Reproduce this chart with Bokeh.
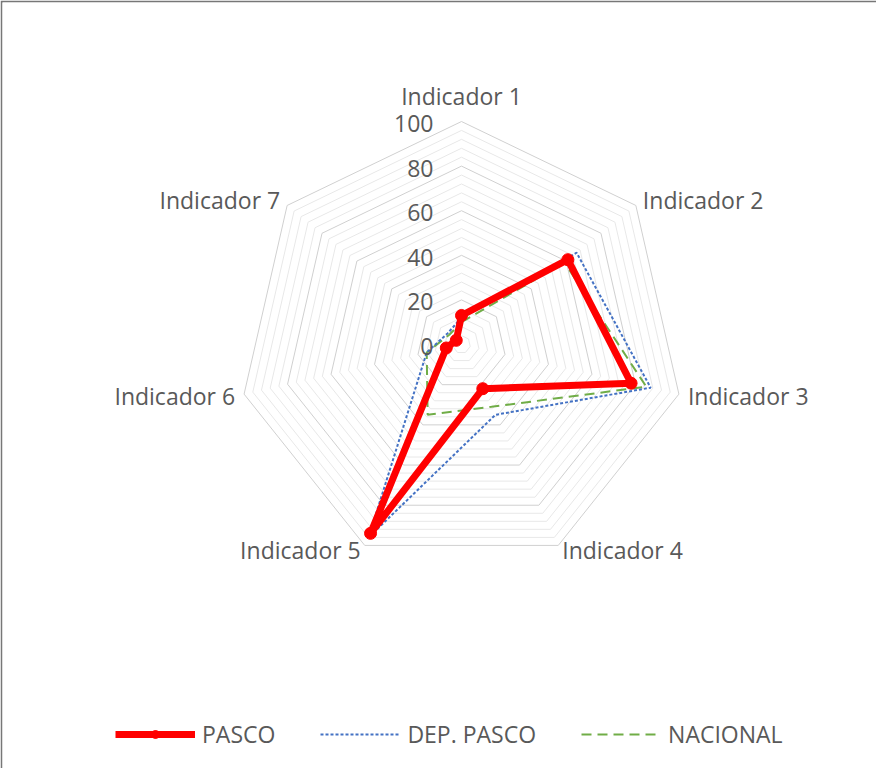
import numpy as np
from bokeh.plotting import figure
from bokeh.models import ColumnDataSource, Legend, LegendItem
from bokeh.core.properties import value
from bokeh.embed import file_html
from bokeh.resources import INLINE

# ---- data ----
categories = ["Indicador 1", "Indicador 2", "Indicador 3", "Indicador 4",
              "Indicador 5", "Indicador 6", "Indicador 7"]
pasco = [13, 61, 78, 22, 94, 7, 3]
dep_pasco = [12, 66, 87, 35, 96, 16, 8]
nacional = [10, 59, 85, 31, 35, 16, 7]
tick_values = [0, 20, 40, 60, 80, 100]
tick_labels = ["0", "20", "40", "60", "80", "100"]
minor_step = 4
r_max = 100

# ---- layout / style ----
FONT = "Open Sans"
FS = "23px"
TXT = "#595959"
W, H = 876, 768
BL, BT = 2, 2
scale = 2.23                       # px per unit
cx_f, cy_f = 459, 342              # centre position in frame px
fw, fh = W - BL, H - BT

p = figure(width=W, height=H, output_backend="svg", toolbar_location=None,
           x_axis_location=None, y_axis_location=None,
           x_range=(-cx_f / scale, (fw - cx_f) / scale),
           y_range=(-(fh - cy_f) / scale, cy_f / scale),
           min_border_left=BL, min_border_top=BT, min_border_right=0, min_border_bottom=0)
p.xgrid.visible = False
p.ygrid.visible = False
p.outline_line_color = None
p.border_fill_color = "#777777"
p.background_fill_color = "white"

n = len(categories)
theta = np.arange(n) * 2 * np.pi / n


def to_xy(vals):
    v = np.asarray(vals, dtype=float)
    x = v * np.sin(theta)
    y = v * np.cos(theta)
    return np.append(x, x[0]), np.append(y, y[0])


# grid rings
minor_levels = [lv for lv in range(minor_step, r_max + 1, minor_step) if lv % 20 != 0]
for lv in minor_levels:
    gx, gy = to_xy([lv] * n)
    p.line(gx, gy, line_color="#e8e8e8", line_width=1)
for lv in tick_values[1:]:
    gx, gy = to_xy([lv] * n)
    p.line(gx, gy, line_color="#d0d0d0", line_width=1)

# series
gx, gy = to_xy(nacional)
r_nac = p.line(gx, gy, line_color="#70ad47", line_width=2, line_dash="10 6")
gx, gy = to_xy(dep_pasco)
r_dep = p.line(gx, gy, line_color="#4472c4", line_width=2, line_dash="3 2")
gx, gy = to_xy(pasco)
r_pas = p.line(gx, gy, line_color="#ff0000", line_width=7, line_join="round")
r_pas_m = p.scatter(gx[:-1], gy[:-1], size=12, marker="circle",
                    fill_color="#ff0000", line_color="#ff0000")

# tick labels on the vertical axis
p.text(x=[0] * len(tick_values), y=tick_values, text=tick_labels,
       text_font=value(FONT), text_font_size=FS, text_color=TXT,
       text_align="right", text_baseline="middle", x_offset=-28, y_offset=2)

# category labels
cat_x = r_max * np.sin(theta)
cat_y = r_max * np.cos(theta)
x_offs = [0, 7, 9, 4, -4, -9, -7]
y_offs = [-26, -5, 2, 5, 5, 2, -5]
aligns = ["center", "left", "left", "left", "right", "right", "right"]
src = ColumnDataSource(dict(x=cat_x, y=cat_y, t=categories, xo=x_offs, yo=y_offs, al=aligns))
p.text(x="x", y="y", text="t", x_offset="xo", y_offset="yo", text_align="al",
       text_baseline="middle", text_font=value(FONT), text_font_size=FS,
       text_color=TXT, source=src)

legend = Legend(items=[
    LegendItem(label="PASCO", renderers=[r_pas, r_pas_m]),
    LegendItem(label="DEP. PASCO", renderers=[r_dep]),
    LegendItem(label="NACIONAL", renderers=[r_nac]),
], orientation="horizontal", location=(113, 18), glyph_width=80, glyph_height=20,
    label_height=20, label_standoff=7, spacing=45, padding=0, margin=0,
    border_line_color=None, background_fill_alpha=0,
    label_text_font=FONT, label_text_font_size=FS, label_text_color=TXT)
p.add_layout(legend)

open("out.html", "w").write(file_html(p, INLINE))
